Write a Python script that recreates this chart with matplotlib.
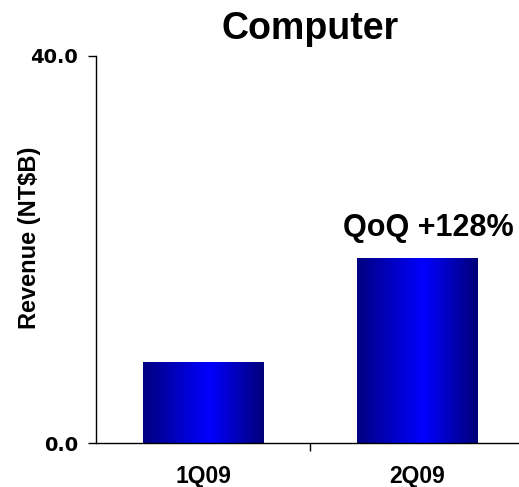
import numpy as np
import matplotlib
matplotlib.use("Agg")
import matplotlib.pyplot as plt
from matplotlib.colors import LinearSegmentedColormap

# data
quarters = ["1Q09", "2Q09"]
revenue = [8.4, 19.1]
qoq_label = "QoQ +128%"

plt.rcParams['font.family'] = ['Liberation Sans', 'DejaVu Sans']

fig = plt.figure(figsize=(5.19, 4.87), dpi=100)
ax = fig.add_axes([0.185, 0.0903, 0.825, 0.795])

x = np.arange(len(quarters))
bars = ax.bar(x, revenue, width=0.565, color="none", edgecolor="none")

# horizontal gradient navy -> blue -> navy
cmap = LinearSegmentedColormap.from_list(
    "bluebar", [(0.0, "#000080"), (0.55, "#0000ff"), (1.0, "#000078")])
grad = np.linspace(0, 1, 256).reshape(1, -1)
for b in bars:
    x0, y0 = b.get_x(), b.get_y()
    w, h = b.get_width(), b.get_height()
    im = ax.imshow(grad, cmap=cmap, aspect="auto", extent=[x0, x0 + w, y0, y0 + h],
                   zorder=2)
    im.set_clip_path(b)

ax.set_xlim(-0.5, 1.5)
ax.set_ylim(0, 40)

ax.set_yticks([0, 40])
ax.set_yticklabels(["0.0", "40.0"], fontweight="bold", fontsize=14,
                   family=["DejaVu Sans"])
ax.tick_params(axis="y", direction="out", length=6, width=1, pad=7)

ax.set_xticks([0.5])
ax.set_xticklabels([""])
ax.tick_params(axis="x", which="major", direction="out", length=6, width=1)
ax.set_xticks(x, minor=True)
ax.set_xticklabels(quarters, minor=True, fontweight="bold", fontsize=16.5)
ax.tick_params(axis="x", which="minor", length=0, pad=16)

for s in ["top", "right"]:
    ax.spines[s].set_visible(False)
ax.spines["left"].set_linewidth(1)
ax.spines["bottom"].set_linewidth(1)

ax.set_ylabel("Revenue (NT$B)", fontweight="bold", fontsize=17)
ax.yaxis.set_label_coords(-0.128, 0.53)
ax.set_title("Computer", fontweight="bold", fontsize=27, pad=12)

ax.annotate(qoq_label, xy=(x[1], revenue[1]), xytext=(11, 15),
            textcoords="offset pixels", ha="center", va="bottom",
            fontweight="bold", fontsize=22)

fig.savefig("out.png", dpi=100)
